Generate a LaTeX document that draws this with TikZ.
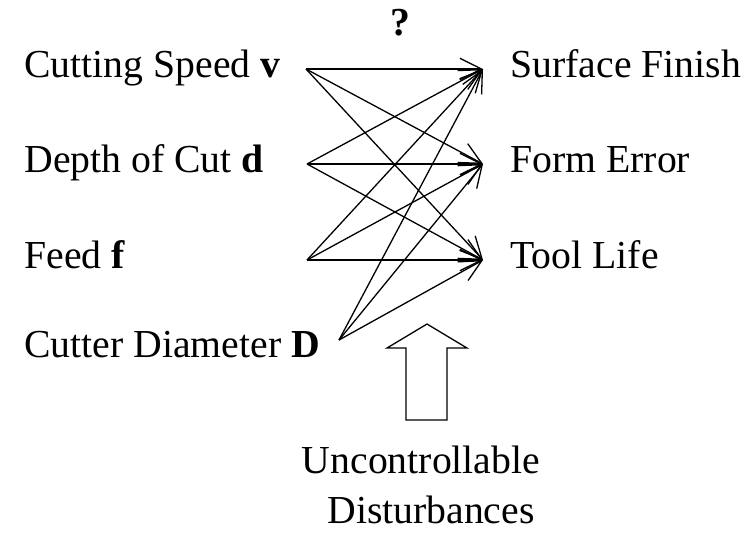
\documentclass[tikz,border=0pt]{standalone}
\usepackage{fontspec}
\setmainfont{Liberation Serif}
\usepackage{tikz}
\usetikzlibrary{positioning, arrows.meta}

\begin{document}
\begin{tikzpicture}[x=0.5pt, y=-0.5pt,
      every node/.style={font=\fontsize{19.85pt}{24.8pt}\selectfont, inner sep=0pt},
      inp/.style={anchor=base west},
      outp/.style={anchor=base west},
      arr/.style={-{Straight Barb[length=10.8pt, width=10.7pt]}, line width=0.65pt}
    ]
    \useasboundingbox (0,0) rectangle (748,532);

    %--- inputs (left) ---
    \node[inp] (v) at (24,77)  {Cutting Speed \textbf{v}};
    \node[inp] (d) at (24,172) {Depth of Cut \textbf{d}};
    \node[inp] (f) at (24,268) {Feed \textbf{f}};
    \node[inp] (D) at (24,357) {Cutter Diameter \textbf{D}};

    \coordinate (sv) at (306,69);
    \coordinate (sd) at (307,164);
    \coordinate (sf) at (307,260);
    \coordinate (sD) at (339,340);

    %--- outputs (right) ---
    \node[outp] (sfin) at (510,77)  {Surface Finish};
    \node[outp] (ferr) at (510,172) {Form Error};
    \node[outp] (tlif) at (510,268) {Tool Life};

    \coordinate (tsfin) at (483,69);
    \coordinate (tferr) at (483,164);
    \coordinate (ttlif) at (483,260);

    \node[font=\fontsize{19.85pt}{24.8pt}\selectfont\bfseries] (q) at (400,23) {?};

    %--- unknown mapping ---
    \foreach \s in {sv, sd, sf, sD} {
      \foreach \t in {tsfin, tferr, ttlif} {
        \draw[arr] (\s) -- (\t);
      }
    }

    %--- disturbances ---
    \draw[line width=0.65pt] (427,324) -- (467,348) -- (447,348) -- (447,420)
          -- (406,420) -- (406,348) -- (387,348) -- cycle;
    \coordinate (dist) at (427,420);

    \node[anchor=base] (unc) at (421,473) {Uncontrollable};
    \node[anchor=base] (dis) at (431,523) {Disturbances};
  \end{tikzpicture}
\end{document}
